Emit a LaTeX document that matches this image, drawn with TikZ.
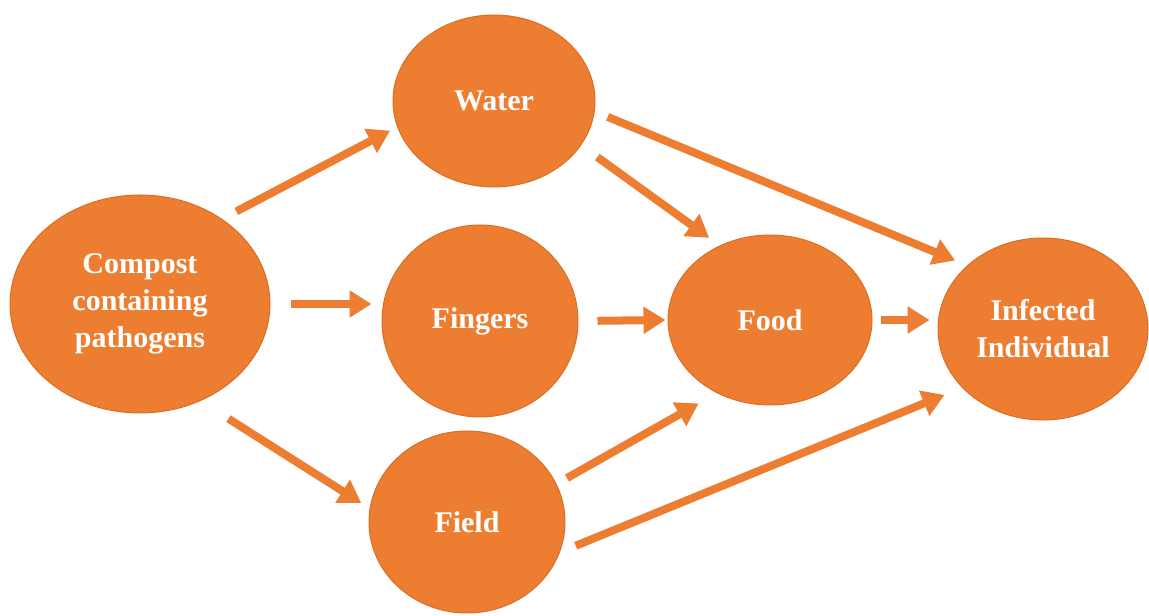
\documentclass[tikz,border=0pt]{standalone}
\usepackage{fontspec}
\setmainfont{Liberation Serif}
\usetikzlibrary{arrows.meta,shapes.geometric}
\definecolor{carrot}{HTML}{ED7D31}
\definecolor{carrotdark}{HTML}{DB6E22}

\begin{document}
\begin{tikzpicture}[x=1pt,y=1pt,>={Triangle[length=22pt,width=26pt]},
  blob/.style={ellipse,fill=carrot,draw=carrotdark,line width=1pt,inner sep=0pt,
    text=white,align=center,font=\fontsize{30}{37}\selectfont\bfseries},
  flow/.style={->,carrot,line width=8pt}]
  \useasboundingbox (0,0) rectangle (1149,616);
  % sources and routes
  \node[blob,minimum width=260pt,minimum height=218pt] (compost) at (140,312) {Compost\\containing\\pathogens};
  \node[blob,minimum width=202pt,minimum height=172pt] (water) at (494,515) {Water};
  \node[blob,minimum width=196pt,minimum height=192pt] (fingers) at (480,295) {Fingers};
  \node[blob,minimum width=196pt,minimum height=182pt] (field) at (467,94) {Field};
  \node[blob,minimum width=204pt,minimum height=170pt] (food) at (770,296) {Food};
  \node[blob,minimum width=210pt,minimum height=182pt] (infected) at (1043,287) {Infected\\Individual};
  % transmission arrows
  \draw[flow,shorten <=16pt,shorten >=8pt] (compost.46) -- (water.195);
  \draw[flow,shorten <=20pt,shorten >=10pt] (compost.east) -- (compost.east -| fingers.west);
  \draw[flow,shorten <=33pt,shorten >=10pt] (compost.302) -- (field.172);
  \draw[flow,shorten <=14pt,shorten >=13pt] (water.354) -- (infected.140);
  \draw[flow,shorten <=20pt,shorten >=13pt] (water.333) -- (food.124);
  \draw[flow,shorten <=19pt,shorten >=2pt] (fingers.east) -- (food.west);
  \draw[flow,shorten <=8pt,shorten >=8pt] (food.east) -- (food.east -| infected.west);
  \draw[flow,shorten <=12pt,shorten >=21pt] (field.23) -- (food.234);
  \draw[flow,shorten <=17pt,shorten >=19pt] (field.342) -- (infected.216);
\end{tikzpicture}
\end{document}
